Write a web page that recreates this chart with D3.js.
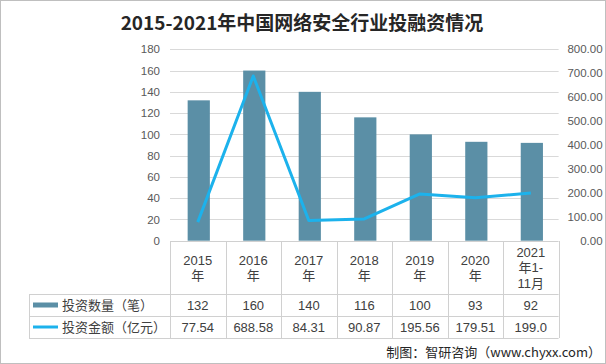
<!DOCTYPE html>
<html><head><meta charset="utf-8">
<script src="https://cdn.jsdelivr.net/npm/d3@7"></script>
<style>
body{margin:0;background:#fff;}
svg{display:block;font-family:"Noto Sans CJK SC","Noto Sans",sans-serif;}
</style></head>
<body><svg id="c" width="606" height="364"></svg>
<script>
const title = "2015-2021年中国网络安全行业投融资情况";
const categories = ["2015\n年","2016\n年","2017\n年","2018\n年","2019\n年","2020\n年","2021\n年1-\n11月"];
const counts = [132,160,140,116,100,93,92];
const amounts = [77.54,688.58,84.31,90.87,195.56,179.51,199.0];
const amountLabels = ["77.54","688.58","84.31","90.87","195.56","179.51","199.0"];
const leftTicks = [0,20,40,60,80,100,120,140,160,180];
const rightTicks = [0,100,200,300,400,500,600,700,800];
const seriesNames = ["投资数量（笔）","投资金额（亿元）"];
const source = "制图：智研咨询（www.chyxx.com）";

const barColor = "#5b8fa6", lineColor = "#1cb2ec";
const svg = d3.select("#c");
const W=606,H=364;
svg.append("rect").attr("x",0.5).attr("y",0.5).attr("width",W-1).attr("height",H-1).attr("fill","#fff").attr("stroke","#bfbfbf");

const L=170,R=558.6,T=49.3,B=240.7;
const x = d3.scaleBand().domain(categories).range([L,R]).paddingInner(0.6).paddingOuter(0.3);
const xc = d3.scaleBand().domain(categories).range([L,R]);
const yL = d3.scaleLinear().domain([0,180]).range([B,T]);
const yR = d3.scaleLinear().domain([0,800]).range([B,T]);

svg.append("text").attr("x",302).attr("y",30).attr("text-anchor","middle")
  .attr("font-size",19).attr("font-weight","bold").attr("fill","#262626").text(title);

// grid
svg.append("g").selectAll("line").data(leftTicks.slice(1)).join("line")
  .attr("x1",L).attr("x2",R).attr("y1",d=>Math.round(yL(d))+0.5).attr("y2",d=>Math.round(yL(d))+0.5)
  .attr("stroke","#d9d9d9");

// axes
const gl = svg.append("g").attr("transform",`translate(${L},0)`)
  .call(d3.axisLeft(yL).tickValues(leftTicks).tickSize(0).tickPadding(10).tickFormat(d3.format("d")));
const gr = svg.append("g").attr("transform",`translate(${R},0)`)
  .call(d3.axisRight(yR).tickValues(rightTicks).tickSize(0).tickPadding(44).tickFormat(d3.format(".2f")));
gr.selectAll("text").attr("text-anchor","end");
[gl,gr].forEach(g=>{g.select(".domain").remove();
  g.selectAll("text").attr("font-size",11.5).attr("fill","#595959").attr("font-family","'Liberation Sans','DejaVu Sans',sans-serif");});

// bars
svg.append("g").selectAll("rect").data(counts).join("rect")
  .attr("x",(d,i)=>x(categories[i])+1).attr("width",x.bandwidth()).attr("y",d=>yL(d)).attr("height",d=>B-yL(d))
  .attr("fill",barColor);

// line
const line = d3.line().x((d,i)=>xc(categories[i])+xc.bandwidth()/2).y(d=>yR(d));
svg.append("path").datum(amounts).attr("d",line).attr("fill","none").attr("stroke",lineColor).attr("stroke-width",3).attr("stroke-linejoin","round");

// table
const tb = svg.append("g");
const gridC = "#d0d0d0";
const TL=29, hB=294, r1B=316, r2B=338;
const hl = (x1,x2,y)=>tb.append("line").attr("x1",x1).attr("x2",x2).attr("y1",y+0.5).attr("y2",y+0.5).attr("stroke",gridC);
const vl = (xx,y1,y2)=>tb.append("line").attr("x1",xx+0.5).attr("x2",xx+0.5).attr("y1",y1).attr("y2",y2).attr("stroke",gridC);
hl(L,R,Math.round(B)); hl(TL,R,hB); hl(TL,R,r1B); hl(TL,R,r2B);
vl(TL,hB,r2B);
xc.domain().forEach(c=>vl(Math.round(xc(c)),Math.round(B),r2B));
vl(Math.round(R),Math.round(B),r2B);

const tf = "'Liberation Sans','DejaVu Sans','Noto Sans CJK SC',sans-serif";
categories.forEach((c,i)=>{
  const lines=c.split("\n");
  const cx=xc(c)+xc.bandwidth()/2;
  const lh=15.5;
  const y0=(B+hB)/2 - (lines.length-1)*lh/2 + 5;
  lines.forEach((t,j)=>tb.append("text").attr("x",cx).attr("y",y0+j*lh).attr("text-anchor","middle")
    .attr("font-size",13).attr("fill","#404040").attr("font-family",tf).text(t));
  tb.append("text").attr("x",cx).attr("y",(hB+r1B)/2+5).attr("text-anchor","middle")
    .attr("font-size",13).attr("fill","#404040").attr("font-family",tf).text(counts[i]);
  tb.append("text").attr("x",cx).attr("y",(r1B+r2B)/2+5).attr("text-anchor","middle")
    .attr("font-size",13).attr("fill","#404040").attr("font-family",tf).text(amountLabels[i]);
});
tb.append("rect").attr("x",33).attr("y",(hB+r1B)/2-2.5).attr("width",25).attr("height",5).attr("fill",barColor);
tb.append("line").attr("x1",33).attr("x2",58).attr("y1",(r1B+r2B)/2).attr("y2",(r1B+r2B)/2).attr("stroke",lineColor).attr("stroke-width",3);
tb.append("text").attr("x",62).attr("y",(hB+r1B)/2+5).attr("font-size",13).attr("fill","#404040").text(seriesNames[0]);
tb.append("text").attr("x",62).attr("y",(r1B+r2B)/2+5).attr("font-size",13).attr("fill","#404040").text(seriesNames[1]);

svg.append("text").attr("x",601).attr("y",357).attr("text-anchor","end").attr("font-size",13).attr("fill","#262626").text(source);
</script></body></html>
